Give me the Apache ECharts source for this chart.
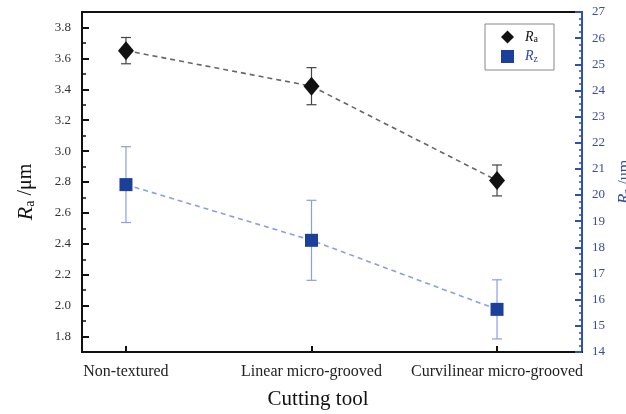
<!DOCTYPE html>
<html>
<head>
<meta charset="utf-8">
<script src="https://cdn.jsdelivr.net/npm/echarts@6/dist/echarts.min.js"></script>
<style>
  html, body { margin: 0; padding: 0; background: #fff; }
  #chart { width: 626px; height: 414px; }
</style>
</head>
<body>
<div id="chart"></div>
<script>
// Ra / Rz 粗糙度 vs 刀具表面織構 — 左軸 Ra (μm)，右軸 Rz (μm)，均帶誤差棒
const TOOLS   = ["Non-textured", "Linear micro-grooved", "Curvilinear micro-grooved"];
const RA      = [3.65, 3.42, 2.81];
const RA_ERR  = [0.085, 0.12, 0.10];
const RZ      = [20.4, 18.27, 15.63];
const RZ_ERR  = [1.45, 1.53, 1.13];
const RA_TICKS = [1.8, 2.0, 2.2, 2.4, 2.6, 2.8, 3.0, 3.2, 3.4, 3.6, 3.8];
const RA_MINOR = [1.9, 2.1, 2.3, 2.5, 2.7, 2.9, 3.1, 3.3, 3.5, 3.7];

const FONT = "'Liberation Serif', 'Times New Roman', serif";
const BLUE_AX = "#2f4fb8";
const BLUE_TXT = "#3a4aa0";
const RZ_DARK = "#1c3f9c";
const RZ_LIGHT = "#8d9de2";

const chart = echarts.init(document.getElementById("chart"), null, { renderer: "canvas" });

const xIdx = TOOLS.map((_, i) => i);
const raPts = xIdx.map(i => [i, RA[i]]);
const rzPts = xIdx.map(i => [i, RZ[i]]);
const raErr = xIdx.map(i => [i, RA[i] - RA_ERR[i], RA[i] + RA_ERR[i]]);
const rzErr = xIdx.map(i => [i, RZ[i] - RZ_ERR[i], RZ[i] + RZ_ERR[i]]);

function errBar(color) {
  return function (params, api) {
    const x = api.value(0);
    const lo = api.coord([x, api.value(1)]);
    const hi = api.coord([x, api.value(2)]);
    const w = 5;
    const st = { stroke: color, lineWidth: 1.2 };
    return {
      type: "group",
      children: [
        { type: "line", shape: { x1: lo[0], y1: lo[1], x2: hi[0], y2: hi[1] }, style: st },
        { type: "line", shape: { x1: lo[0] - w, y1: lo[1], x2: lo[0] + w, y2: lo[1] }, style: st },
        { type: "line", shape: { x1: hi[0] - w, y1: hi[1], x2: hi[0] + w, y2: hi[1] }, style: st },
      ],
    };
  };
}

const subRich = {
  i:  { fontFamily: FONT, fontStyle: "italic", fontSize: 22, color: "#111" },
  s:  { fontFamily: FONT, fontSize: 14, color: "#111", verticalAlign: "bottom", padding: [8, 0, 0, 0] },
  n:  { fontFamily: FONT, fontSize: 20, color: "#111" },
  ib: { fontFamily: FONT, fontStyle: "italic", fontSize: 17, color: BLUE_TXT },
  sb: { fontFamily: FONT, fontSize: 11, color: BLUE_TXT, verticalAlign: "bottom", padding: [6, 0, 0, 0] },
  nb: { fontFamily: FONT, fontSize: 16, color: BLUE_TXT },
};

chart.setOption({
  backgroundColor: "#fff",
  animation: false,
  textStyle: { fontFamily: FONT },
  title: {
    text: "Cutting tool", left: 313, top: 384, textAlign: "center",
    textStyle: { fontFamily: FONT, fontSize: 21, fontWeight: "normal", color: "#111" },
  },
  grid: {
    left: 82, right: 44, top: 12, bottom: 62, show: true, borderColor: "#111", borderWidth: 2,
    containLabel: false, outerBoundsMode: "none",
  },
  legend: {
    orient: "vertical", left: 485, top: 24,
    padding: [6, 16, 6, 16], itemGap: 5, itemWidth: 13, itemHeight: 13,
    borderColor: "#888", borderWidth: 1, backgroundColor: "#fff",
    data: [{ name: "Ra", icon: "diamond" }, { name: "Rz", icon: "rect" }],
    formatter: n => n === "Ra" ? "{li|R}{ls|a}" : "{lib|R}{lsb|z}",
    textStyle: {
      rich: {
        li:  { fontFamily: FONT, fontStyle: "italic", fontSize: 14, color: "#111", padding: [0, 0, 0, 6] },
        ls:  { fontFamily: FONT, fontSize: 10, color: "#111", verticalAlign: "bottom", padding: [5, 0, 0, 0] },
        lib: { fontFamily: FONT, fontStyle: "italic", fontSize: 14, color: "#2f45a8", padding: [0, 0, 0, 6] },
        lsb: { fontFamily: FONT, fontSize: 10, color: "#2f45a8", verticalAlign: "bottom", padding: [5, 0, 0, 0] },
      },
    },
  },
  xAxis: {
    type: "value", min: -0.237, max: 2.458,
    axisLine: { onZero: false, lineStyle: { color: "#111", width: 2 } },
    axisTick: { show: true, inside: true, length: 6, lineStyle: { color: "#111", width: 2 }, customValues: xIdx },
    axisLabel: { customValues: xIdx, formatter: v => TOOLS[Math.round(v)] ?? "", color: "#222", fontFamily: FONT, fontSize: 16, margin: 12 },
    splitLine: { show: false },
  },
  yAxis: [
    {
      type: "value", min: 1.7, max: 3.9, position: "left",
      name: "{i|R}{s|a}{n| /μm}", nameLocation: "middle", nameGap: 45, nameRotate: 90,
      nameTextStyle: { rich: subRich, padding: [0, 20, 0, 0] },
      axisLine: { show: true, onZero: false, lineStyle: { color: "#111", width: 2 } },
      axisTick: { show: true, inside: true, length: 7, lineStyle: { color: "#111", width: 2 }, customValues: RA_TICKS },
      axisLabel: { customValues: RA_TICKS, formatter: v => v.toFixed(1), color: "#333", fontFamily: FONT, fontSize: 13, margin: 11 },
      splitLine: { show: false },
    },
    {
      type: "value", min: 1.7, max: 3.9, position: "left",
      axisLine: { show: false, onZero: false },
      axisTick: { show: true, inside: true, length: 4, lineStyle: { color: "#111", width: 1.5 }, customValues: RA_MINOR },
      axisLabel: { show: false },
      splitLine: { show: false },
    },
    {
      type: "value", min: 14, max: 27, interval: 1, position: "right",
      name: "{ib|R}{sb|z}{nb| /um}", nameLocation: "middle", nameGap: 30, nameRotate: 90,
      nameTextStyle: { rich: subRich },
      axisLine: { show: true, onZero: false, lineStyle: { color: BLUE_AX, width: 2 } },
      axisTick: { show: true, inside: true, length: 7, lineStyle: { color: BLUE_AX, width: 2 } },
      minorTick: { show: true, splitNumber: 4, length: 3, lineStyle: { color: BLUE_AX, width: 1.5 } },
      axisLabel: { color: BLUE_TXT, fontFamily: FONT, fontSize: 13, margin: 10 },
      splitLine: { show: false },
    },
  ],
  series: [
    {
      name: "RaErr", type: "custom", yAxisIndex: 0, data: raErr, z: 2,
      renderItem: errBar("#444"), silent: true,
    },
    {
      name: "RzErr", type: "custom", yAxisIndex: 2, data: rzErr, z: 2,
      renderItem: errBar(RZ_LIGHT), silent: true,
    },
    {
      name: "Ra", type: "line", yAxisIndex: 0, data: raPts, z: 5,
      symbol: "diamond", symbolSize: [16, 19],
      itemStyle: { color: "#111" },
      lineStyle: { color: "#666", width: 1.6, type: [5, 4] },
    },
    {
      name: "Rz", type: "line", yAxisIndex: 2, data: rzPts, z: 5,
      symbol: "rect", symbolSize: 13,
      itemStyle: { color: RZ_DARK },
      lineStyle: { color: RZ_LIGHT, width: 1.6, type: [5, 4] },
    },
  ],
});
</script>
</body>
</html>
